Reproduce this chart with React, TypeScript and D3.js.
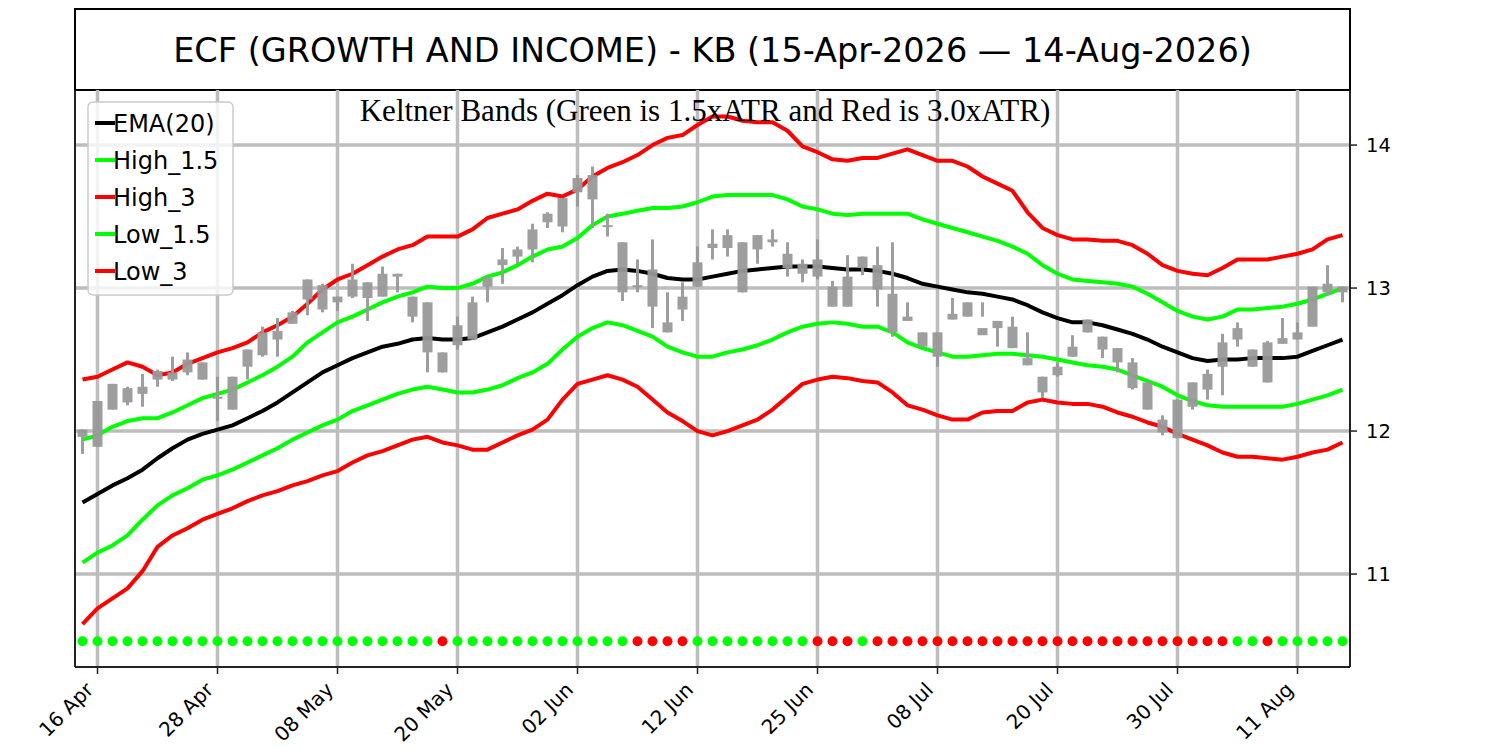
import React from "react";
import * as d3 from "d3";

// ---------- data ----------
const dates: string[] = [
  "2026-04-15","2026-04-16","2026-04-17","2026-04-20","2026-04-21","2026-04-22","2026-04-23","2026-04-24","2026-04-27","2026-04-28","2026-04-29","2026-04-30",
  "2026-05-01","2026-05-04","2026-05-05","2026-05-06","2026-05-07","2026-05-08","2026-05-11","2026-05-12","2026-05-13","2026-05-14","2026-05-15","2026-05-18","2026-05-19","2026-05-20","2026-05-21","2026-05-22","2026-05-26","2026-05-27","2026-05-28","2026-05-29",
  "2026-06-01","2026-06-02","2026-06-03","2026-06-04","2026-06-05","2026-06-08","2026-06-09","2026-06-10","2026-06-11","2026-06-12","2026-06-15","2026-06-16","2026-06-17","2026-06-18","2026-06-22","2026-06-23","2026-06-24","2026-06-25","2026-06-26","2026-06-29","2026-06-30",
  "2026-07-01","2026-07-02","2026-07-06","2026-07-07","2026-07-08","2026-07-09","2026-07-10","2026-07-13","2026-07-14","2026-07-15","2026-07-16","2026-07-17","2026-07-20","2026-07-21","2026-07-22","2026-07-23","2026-07-24","2026-07-27","2026-07-28","2026-07-29","2026-07-30","2026-07-31",
  "2026-08-03","2026-08-04","2026-08-05","2026-08-06","2026-08-07","2026-08-10","2026-08-11","2026-08-12","2026-08-13","2026-08-14"
];

const tickIdx: number[] = [1, 9, 17, 25, 33, 41, 49, 57, 65, 73, 81];
const yTicks: number[] = [11, 12, 13, 14];

const openP: number[] = [
  12.01,12.21,12.33,12.30,12.31,12.42,12.41,12.50,12.48,12.24,12.38,12.57,12.69,12.70,12.83,13.06,13.02,12.94,13.06,13.04,13.10,13.10,12.94,12.90,12.55,12.74,12.90,13.07,13.20,13.27,13.41,13.52,13.63,13.77,13.79,13.44,13.32,13.02,13.13,12.76,12.94,13.18,13.31,13.37,13.32,13.37,13.34,13.24,13.17,13.20,13.01,13.08,13.22,13.16,12.96,12.80,12.69,12.69,12.82,12.90,12.72,12.77,12.73,12.51,12.38,12.45,12.59,12.78,12.66,12.58,12.48,12.34,12.08,12.22,12.34,12.40,12.62,12.72,12.57,12.62,12.65,12.69,13.01,13.03,13.01
];
const closeP: number[] = [
  11.96,11.89,12.15,12.20,12.26,12.36,12.36,12.41,12.36,12.23,12.15,12.45,12.53,12.64,12.75,12.92,12.85,12.90,12.94,12.93,12.94,13.08,12.80,12.55,12.41,12.60,12.64,13.01,13.16,13.22,13.27,13.46,13.43,13.67,13.62,13.43,12.97,13.01,12.87,12.69,12.85,13.01,13.28,13.28,12.97,13.27,13.32,13.14,13.10,13.08,12.87,12.87,13.14,12.99,12.69,12.77,12.59,12.52,12.78,12.80,12.67,12.72,12.58,12.46,12.27,12.39,12.52,12.69,12.57,12.48,12.30,12.15,11.99,11.95,12.17,12.29,12.45,12.64,12.45,12.34,12.61,12.64,12.73,12.97,12.97
];
const highP: number[] = [
  12.01,12.21,12.33,12.31,12.40,12.43,12.52,12.55,12.48,12.38,12.38,12.57,12.73,12.79,12.84,13.06,13.03,12.94,13.17,13.04,13.15,13.10,12.94,12.90,12.55,12.80,12.94,13.08,13.28,13.29,13.45,13.53,13.63,13.79,13.85,13.52,13.32,13.20,13.34,12.97,13.04,13.29,13.41,13.41,13.32,13.37,13.41,13.32,13.20,13.34,13.05,13.23,13.22,13.29,13.32,12.90,12.69,12.69,12.93,12.90,12.90,12.77,12.80,12.69,12.38,12.48,12.67,12.78,12.66,12.58,12.51,12.34,12.11,12.22,12.34,12.43,12.68,12.76,12.57,12.63,12.79,12.76,13.01,13.16,13.01
];
const lowP: number[] = [
  11.84,11.89,12.15,12.18,12.17,12.31,12.35,12.39,12.36,12.07,12.15,12.36,12.52,12.52,12.75,12.81,12.83,12.84,12.93,12.77,12.94,12.97,12.76,12.41,12.41,12.57,12.64,12.90,13.03,13.17,13.18,13.42,13.39,13.57,13.42,13.36,12.91,12.97,12.72,12.69,12.77,13.01,13.20,13.22,12.97,13.17,13.29,13.08,13.04,13.06,12.87,12.87,13.09,12.87,12.66,12.77,12.59,12.45,12.78,12.80,12.80,12.59,12.58,12.46,12.23,12.38,12.52,12.69,12.51,12.41,12.29,12.15,11.97,11.95,12.15,12.22,12.25,12.59,12.45,12.34,12.61,12.64,12.73,12.95,12.90
];

const ema20: number[] = [
  11.50,11.56,11.62,11.67,11.73,11.81,11.88,11.94,11.98,12.01,12.04,12.09,12.14,12.20,12.27,12.34,12.41,12.46,12.51,12.55,12.59,12.61,12.64,12.65,12.64,12.64,12.65,12.69,12.73,12.78,12.83,12.89,12.95,13.02,13.08,13.12,13.13,13.12,13.10,13.07,13.06,13.06,13.08,13.10,13.12,13.13,13.14,13.15,13.15,13.15,13.14,13.13,13.13,13.12,13.10,13.07,13.03,13.01,12.99,12.97,12.96,12.94,12.92,12.88,12.83,12.79,12.76,12.76,12.74,12.71,12.68,12.64,12.59,12.55,12.51,12.49,12.50,12.50,12.51,12.51,12.51,12.52,12.56,12.60,12.64
];
const high15: number[] = [
  11.94,11.97,12.03,12.07,12.09,12.09,12.13,12.18,12.23,12.26,12.29,12.34,12.39,12.45,12.52,12.62,12.69,12.76,12.80,12.85,12.90,12.94,12.97,13.01,13.00,13.00,13.03,13.08,13.11,13.16,13.22,13.27,13.29,13.35,13.44,13.50,13.52,13.54,13.56,13.56,13.57,13.60,13.64,13.65,13.65,13.65,13.65,13.62,13.57,13.55,13.52,13.51,13.52,13.52,13.52,13.52,13.48,13.45,13.42,13.39,13.36,13.33,13.29,13.24,13.16,13.10,13.06,13.05,13.04,13.03,13.01,12.96,12.90,12.84,12.80,12.78,12.80,12.85,12.85,12.86,12.87,12.89,12.92,12.96,13.00
];
const high3: number[] = [
  12.36,12.38,12.43,12.48,12.45,12.39,12.41,12.47,12.51,12.55,12.58,12.62,12.69,12.74,12.80,12.89,12.99,13.06,13.10,13.16,13.22,13.27,13.30,13.36,13.36,13.36,13.41,13.49,13.52,13.55,13.61,13.66,13.64,13.69,13.78,13.84,13.88,13.93,14.00,14.05,14.07,14.14,14.20,14.20,14.17,14.16,14.16,14.10,13.99,13.95,13.90,13.89,13.91,13.91,13.94,13.97,13.93,13.89,13.89,13.85,13.78,13.73,13.68,13.53,13.42,13.37,13.34,13.34,13.33,13.33,13.30,13.24,13.16,13.12,13.10,13.09,13.14,13.20,13.20,13.20,13.22,13.24,13.27,13.34,13.37
];
const low15: number[] = [
  11.08,11.15,11.20,11.27,11.38,11.48,11.55,11.60,11.66,11.69,11.73,11.78,11.83,11.88,11.94,11.99,12.04,12.08,12.14,12.18,12.22,12.26,12.29,12.31,12.29,12.27,12.27,12.29,12.32,12.37,12.41,12.47,12.57,12.66,12.72,12.76,12.74,12.70,12.66,12.59,12.55,12.52,12.52,12.55,12.57,12.60,12.64,12.69,12.73,12.75,12.76,12.75,12.73,12.73,12.69,12.62,12.58,12.55,12.52,12.52,12.53,12.54,12.54,12.53,12.52,12.50,12.48,12.46,12.45,12.43,12.39,12.35,12.31,12.25,12.21,12.18,12.17,12.17,12.17,12.17,12.17,12.19,12.22,12.25,12.29
];
const low3: number[] = [
  10.65,10.76,10.83,10.90,11.02,11.19,11.27,11.32,11.38,11.42,11.46,11.51,11.55,11.58,11.62,11.65,11.69,11.72,11.78,11.83,11.86,11.90,11.94,11.96,11.92,11.90,11.87,11.87,11.92,11.97,12.01,12.08,12.22,12.33,12.36,12.39,12.36,12.31,12.22,12.13,12.07,12.00,11.97,12.00,12.04,12.08,12.15,12.24,12.33,12.36,12.38,12.37,12.35,12.34,12.27,12.18,12.15,12.11,12.08,12.08,12.13,12.14,12.14,12.20,12.22,12.20,12.19,12.19,12.17,12.13,12.10,12.06,12.03,11.98,11.94,11.90,11.85,11.82,11.82,11.81,11.80,11.82,11.85,11.87,11.92
];
// 1 = green dot, 0 = red dot
const signal: number[] = [
  1,1,1,1,1,1,1,1,1,1,1,1,1,1,1,1,1,1,1,1,1,1,1,1,0,1,1,1,1,1,1,1,1,1,1,1,1,0,0,0,0,1,1,1,1,1,1,1,1,0,0,0,1,0,0,0,0,0,0,0,0,0,0,0,0,0,0,0,0,0,0,0,0,0,0,0,0,1,1,0,1,1,1,1,1
];
const signalLevel = 10.53;

const titleText = "ECF (GROWTH AND INCOME) - KB (15-Apr-2026 \u2014 14-Aug-2026)";
const subtitleText = "Keltner Bands (Green is 1.5xATR and Red is 3.0xATR)";

const legendItems = [
  { label: "EMA(20)", color: "#000000" },
  { label: "High_1.5", color: "#00ff00" },
  { label: "High_3", color: "#ff0000" },
  { label: "Low_1.5", color: "#00ff00" },
  { label: "Low_3", color: "#ff0000" },
];

// ---------- layout ----------
const W = 1500, H = 750;
const L = 75, R = 1350, T = 90, B = 667;
const SANS = "'DejaVu Sans', sans-serif";

export default function App() {
  const x = d3.scaleLinear().domain([-0.5, dates.length - 0.5]).range([L, R]);
  const y = d3.scaleLinear().domain([10.35, 14.385]).range([B, T]);
  const parse = d3.timeParse("%Y-%m-%d");
  const fmt = d3.timeFormat("%d %b");

  const line = d3
    .line<number>()
    .x((_, i) => x(i))
    .y((d) => y(d));

  const series = [
    { data: high3, color: "#ff0000" },
    { data: low3, color: "#ff0000" },
    { data: high15, color: "#00ff00" },
    { data: low15, color: "#00ff00" },
    { data: ema20, color: "#000000" },
  ];

  const bodyW = 10;

  return (
    <svg
      width={W}
      height={H}
      viewBox={`0 0 ${W} ${H}`}
      style={{ position: "absolute", left: 0, top: 0, background: "#fff" }}
    >
      <rect x={0} y={0} width={W} height={H} fill="#fff" />
      <defs>
        <clipPath id="plotclip">
          <rect x={L} y={T} width={R - L} height={B - T} />
        </clipPath>
      </defs>

      {/* title box */}
      <rect x={L} y={9} width={R - L} height={T - 9} fill="#fff" stroke="#000" strokeWidth={2} />
      <text x={(L + R) / 2} y={62} textAnchor="middle" fontFamily={SANS} fontSize={33.5} fill="#000">
        {titleText}
      </text>

      {/* grid */}
      <g stroke="#bdbdbd" strokeWidth={3.5}>
        {tickIdx.map((t) => (
          <line key={"gx" + t} x1={x(t)} x2={x(t)} y1={T} y2={B} />
        ))}
        {yTicks.map((t) => (
          <line key={"gy" + t} x1={L} x2={R} y1={y(t)} y2={y(t)} />
        ))}
      </g>

      <g clipPath="url(#plotclip)">
        {/* band lines */}
        {series.map((s, k) => (
          <path
            key={"s" + k}
            d={line(s.data) || ""}
            fill="none"
            stroke={s.color}
            strokeWidth={4}
            strokeLinejoin="round"
            strokeLinecap="butt"
          />
        ))}

        {/* candles */}
        <g fill="#999999" stroke="#999999" opacity={0.95}>
          {openP.map((o, i) => {
            const c = closeP[i];
            const top = y(Math.max(o, c));
            const bot = y(Math.min(o, c));
            return (
              <g key={"c" + i}>
                <line x1={x(i)} x2={x(i)} y1={y(highP[i])} y2={y(lowP[i])} strokeWidth={3} />
                <rect x={x(i) - bodyW / 2} y={top} width={bodyW} height={Math.max(bot - top, 2)} stroke="none" />
              </g>
            );
          })}
        </g>

        {/* signal dots */}
        {signal.map((s, i) => (
          <circle key={"d" + i} cx={x(i)} cy={y(signalLevel)} r={5} fill={s ? "#00ff00" : "#ff0000"} />
        ))}
      </g>

      {/* subtitle */}
      <text x={705} y={121} textAnchor="middle" fontFamily="'Liberation Serif', 'Times New Roman', serif" fontSize={31} fill="#000">
        {subtitleText}
      </text>

      {/* legend */}
      <g>
        <rect x={88} y={102} width={145} height={193} rx={5} fill="#fff" fillOpacity={0.8} stroke="#cccccc" strokeWidth={1.5} />
        {legendItems.map((it, k) => {
          const cy = 123 + k * 37;
          return (
            <g key={"l" + k}>
              <line x1={95} x2={115} y1={cy} y2={cy} stroke={it.color} strokeWidth={4} />
              <text x={113} y={cy} dy="0.36em" fontFamily={SANS} fontSize={24} fill="#000">
                {it.label}
              </text>
            </g>
          );
        })}
      </g>

      {/* spines */}
      <g stroke="#222" strokeWidth={2} fill="none">
        <line x1={L} x2={L} y1={T} y2={B} />
        <line x1={R} x2={R} y1={T} y2={B} />
        <line x1={L} x2={R} y1={B} y2={B} />
      </g>

      {/* right y axis */}
      {yTicks.map((t) => (
        <g key={"yt" + t}>
          <line x1={R} x2={R + 7} y1={y(t)} y2={y(t)} stroke="#222" strokeWidth={1.5} />
          <text x={R + 16} y={y(t)} dy="0.36em" fontFamily={SANS} fontSize={19.5} fill="#000">
            {t}
          </text>
        </g>
      ))}

      {/* bottom x axis */}
      {tickIdx.map((t) => (
        <g key={"xt" + t}>
          <line x1={x(t)} x2={x(t)} y1={B} y2={B + 7} stroke="#222" strokeWidth={1.5} />
          <text
            transform={`translate(${x(t) - 3},${B + 24}) rotate(-45)`}
            textAnchor="end"
            fontFamily={SANS}
            fontSize={20}
            fill="#000"
          >
            {fmt(parse(dates[t]) as Date)}
          </text>
        </g>
      ))}
    </svg>
  );
}
